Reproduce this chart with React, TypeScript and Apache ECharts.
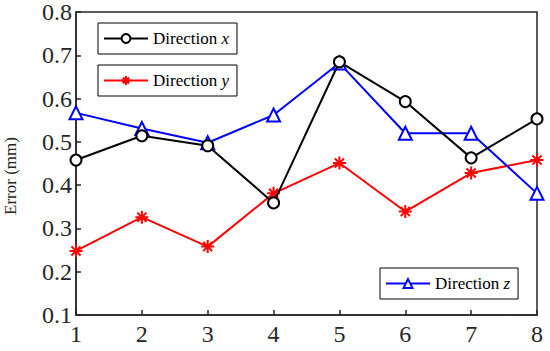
import React, { useEffect, useRef } from 'react';
import * as echarts from 'echarts';

const categories = ['1', '2', '3', '4', '5', '6', '7', '8'];
const directionX = [0.458, 0.514, 0.491, 0.359, 0.685, 0.593, 0.463, 0.553];
const directionY = [0.248, 0.326, 0.258, 0.381, 0.451, 0.339, 0.428, 0.458];
const directionZ = [0.567, 0.531, 0.498, 0.562, 0.682, 0.52, 0.52, 0.381];
const seriesNames = ['Direction x', 'Direction y', 'Direction z'];
const yAxisTitle = 'Error (mm)';

const FONT = 'Liberation Serif';
const ASTERISK = 'path://M0,10 L20,10 M10,0 L10,20 M3,3 L17,17 M3,17 L17,3';

export default function App() {
  const ref = useRef<HTMLDivElement>(null);
  useEffect(() => {
    if (!ref.current) return;
    const chart = echarts.init(ref.current, undefined, { renderer: 'svg' });
    const legendText = {
      fontFamily: FONT,
      fontSize: 17,
      color: '#000',
      rich: {
        a: { fontFamily: FONT, fontSize: 17, color: '#000' },
        b: { fontFamily: FONT, fontSize: 17, color: '#000', fontStyle: 'italic' },
      },
    };
    const fmt = (name: string) => `{a|Direction }{b|${name.slice(-1)}}`;
    const legendBase = {
      orient: 'horizontal',
      borderColor: '#000',
      borderWidth: 1,
      backgroundColor: '#fff',
      itemWidth: 44,
      itemHeight: 11,
      padding: [7, 8, 7, 5],
      textStyle: legendText,
      formatter: fmt,
      selectedMode: false,
    };
    chart.setOption({
      animation: false,
      backgroundColor: '#fff',
      textStyle: { fontFamily: FONT },
      grid: {
        left: 76,
        right: 13,
        top: 12,
        bottom: 36,
        show: true,
        borderColor: '#262626',
        borderWidth: 1.5,
        backgroundColor: 'transparent',
      },
      graphic: [
        {
          type: 'text',
          x: 10,
          y: 176,
          rotation: Math.PI / 2,
          style: {
            text: yAxisTitle,
            fontFamily: FONT,
            fontSize: 17,
            fill: '#262626',
            align: 'center',
            verticalAlign: 'middle',
          },
        },
      ],
      legend: [
        { ...legendBase, data: [seriesNames[0]], left: 98, top: 23 },
        { ...legendBase, data: [seriesNames[1]], left: 98, top: 65 },
        { ...legendBase, data: [seriesNames[2]], left: 380, top: 268 },
      ],
      xAxis: {
        type: 'category',
        data: categories,
        boundaryGap: false,
        axisLine: { lineStyle: { color: '#262626', width: 1.5 } },
        axisTick: { inside: true, length: 5, lineStyle: { color: '#262626', width: 1.5 } },
        axisLabel: { fontFamily: FONT, fontSize: 24, color: '#262626', margin: 7 },
        splitLine: { show: false },
      },
      yAxis: {
        type: 'value',
        min: 0.1,
        max: 0.8,
        interval: 0.1,
        axisLine: { show: true, lineStyle: { color: '#262626', width: 1.5 } },
        axisTick: { show: true, inside: true, length: 5, lineStyle: { color: '#262626', width: 1.5 } },
        axisLabel: {
          fontFamily: FONT,
          fontSize: 24,
          color: '#262626',
          margin: 4,
          padding: [6, 0, 0, 0],
          formatter: (v: number) => v.toFixed(1),
        },
        splitLine: { show: false },
      },
      series: [
        {
          name: seriesNames[0],
          type: 'line',
          data: directionX,
          symbol: 'emptyCircle',
          symbolSize: 11,
          lineStyle: { color: '#000', width: 2 },
          itemStyle: { color: '#000', borderColor: '#000', borderWidth: 2 },
          z: 3,
        },
        {
          name: seriesNames[1],
          type: 'line',
          data: directionY,
          symbol: ASTERISK,
          symbolSize: 13,
          lineStyle: { color: '#ff0000', width: 2 },
          itemStyle: { color: '#ff0000', borderColor: '#ff0000', borderWidth: 2 },
          z: 2,
        },
        {
          name: seriesNames[2],
          type: 'line',
          data: directionZ,
          symbol: 'emptyTriangle',
          symbolSize: 13,
          lineStyle: { color: '#0000ff', width: 2 },
          itemStyle: { color: '#0000ff', borderColor: '#0000ff', borderWidth: 2 },
          z: 2,
        },
      ],
    });
    return () => chart.dispose();
  }, []);
  return (
    <div
      ref={ref}
      style={{ position: 'absolute', left: 0, top: 0, width: 550, height: 351 }}
    />
  );
}
